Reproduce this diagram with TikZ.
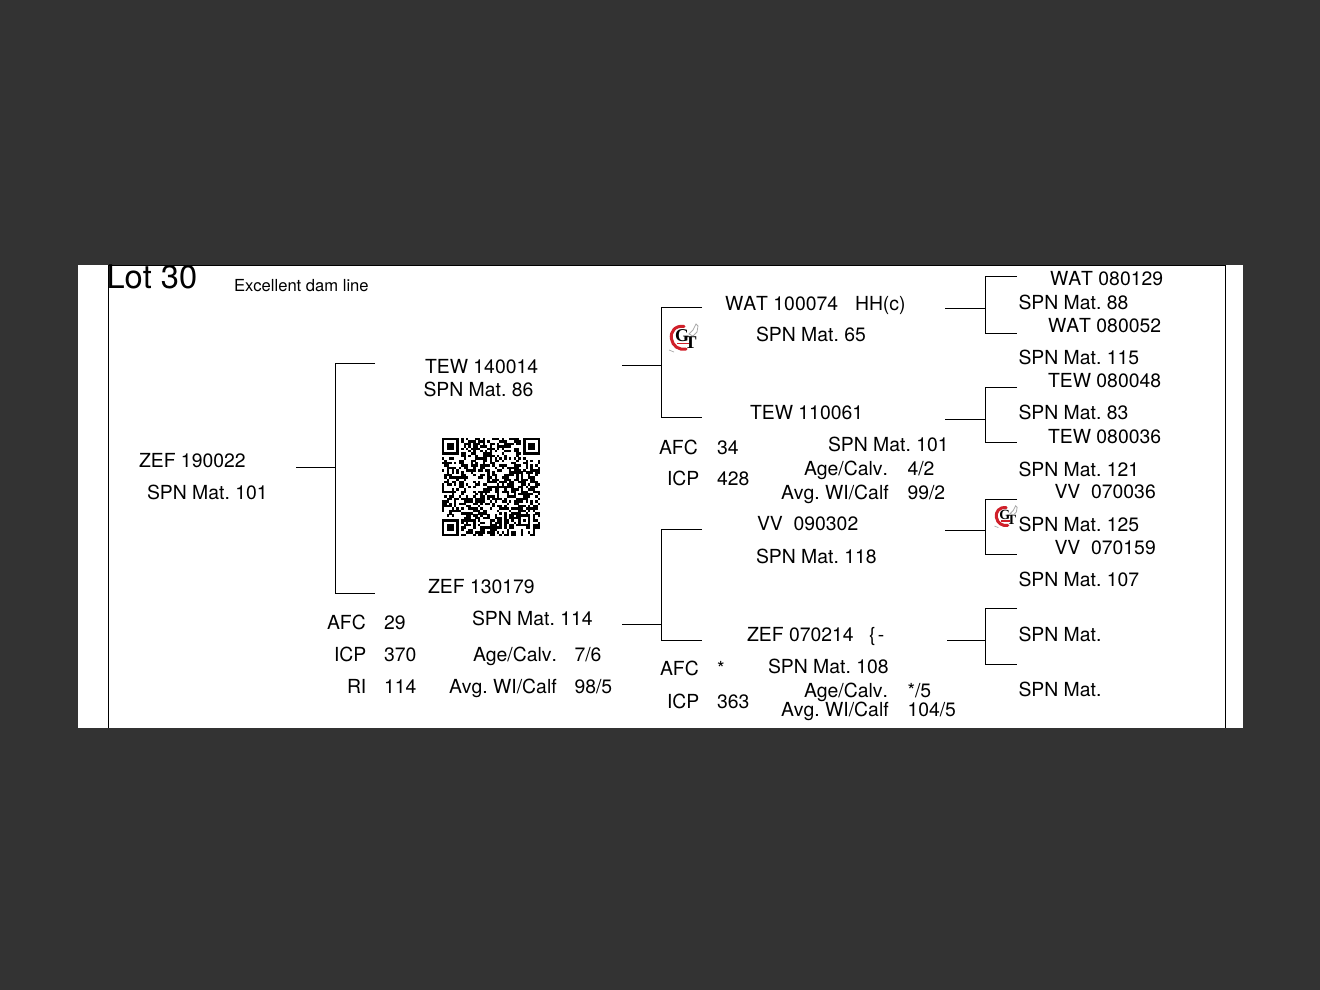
\documentclass[tikz,border=0pt]{standalone}
\usepackage{fontspec}
\setmainfont[Kerning=Off]{TeX Gyre Heros}
\newfontfamily\logoserif{Liberation Serif}
\definecolor{pagebg}{HTML}{333333}
\definecolor{logored}{HTML}{D0202A}
\definecolor{logogray}{HTML}{A9A9A9}
\frenchspacing
\tikzset{
  lbl/.style={inner sep=0pt,outer sep=0pt,anchor=base west,text=black,font=\fontsize{19.38}{23}\selectfont},
  link/.style={draw=black,line width=0.9pt,line join=miter},
  framerule/.style={draw=black,line width=1pt},
  gtlogo/.pic={
    \draw[logored,line width=3pt,line cap=round] (15,3.5) .. controls (6,2) and (1,9) .. (2.5,16) .. controls (3.5,23) and (10,27.5) .. (17,26);
    \draw[logored,line width=1.4pt] (8,20.5) -- (20,20.5);
    \node[inner sep=0pt,anchor=base west,transform shape,font=\logoserif\bfseries\fontsize{18}{18}\selectfont] (-gt) at (6,18) {G\kern-4.5pt\raisebox{-7pt}{T}};
    \draw[logogray,line width=0.8pt] (20,11) -- (24,7) -- (27,1) -- (29,3) -- (28,9) -- (24,13) -- cycle;
    \draw[logogray,line width=0.7pt] (0,27) -- (5,29);
  },
  qrfinder/.pic={
    \fill[black] (0,0) rectangle (7,7);
    \fill[white] (1,1) rectangle (6,6);
    \fill[black] (2,2) rectangle (5,5);
  }
}
\begin{document}
\begin{tikzpicture}[x=1pt,y=-1pt]
\useasboundingbox (0,0) rectangle (1320,990);
\fill[pagebg] (0,0) rectangle (1320,990);
\fill[white] (78,264.5) rectangle (1243,728);
% frame
\coordinate (fa) at (108.5,728); \coordinate (fb) at (108.5,265); \coordinate (fc) at (1225.5,265); \coordinate (fd) at (1225.5,728);
\draw[framerule] (fa) -- (fb) -- (fc) -- (fd);
% titles
\node[lbl,font=\fontsize{32.6}{36}\selectfont] (lot) at (106.5,288) {Lot 30};
\node[lbl,font=\fontsize{16.6}{20}\selectfont] (note) at (234,291) {Excellent dam line};
% generation 1
\node[lbl] (a1) at (139,467) {ZEF 190022};
\node[lbl] (a2) at (147,499) {SPN Mat. 101};
% generation 2
\node[lbl] (b1) at (425,373) {TEW 140014};
\node[lbl] (b2) at (423.5,396) {SPN Mat. 86};
\node[lbl] (c1) at (428,593) {ZEF 130179};
\node[lbl] (c2) at (327,629) {AFC};
\node[lbl] (c3) at (384,629) {29};
\node[lbl] (c4) at (472,625) {SPN Mat. 114};
\node[lbl] (c5) at (334,661) {ICP};
\node[lbl] (c6) at (384,661) {370};
\node[lbl] (c7) at (473,661) {Age/Calv.};
\node[lbl] (c8) at (574.5,661) {7/6};
\node[lbl] (c9) at (347,693) {RI};
\node[lbl] (c10) at (384,693) {114};
\node[lbl] (c11) at (449,693) {Avg. WI/Calf};
\node[lbl] (c12) at (574.5,693) {98/5};
% generation 3
\node[lbl] (d1) at (725,310) {WAT 100074};
\node[lbl] (d2) at (855,310) {HH(c)};
\node[lbl] (d3) at (756,341) {SPN Mat. 65};
\node[lbl] (e1) at (750,419) {TEW 110061};
\node[lbl] (e2) at (659,454) {AFC};
\node[lbl] (e3) at (717,454) {34};
\node[lbl] (e4) at (828,451) {SPN Mat. 101};
\node[lbl] (e5) at (804,475) {Age/Calv.};
\node[lbl] (e6) at (907.5,475) {4/2};
\node[lbl] (e7) at (667,485) {ICP};
\node[lbl] (e8) at (717,485) {428};
\node[lbl] (e9) at (781,499) {Avg. WI/Calf};
\node[lbl] (e10) at (907.5,499) {99/2};
\node[lbl] (f1) at (757,530) {VV\ \ 090302};
\node[lbl] (f2) at (756,563) {SPN Mat. 118};
\node[lbl] (g1) at (747,641) {ZEF 070214};
\node[lbl] (g2) at (869,641) {\{\kern2.5pt-};
\node[lbl] (g3) at (660,675) {AFC};
\node[lbl] (g4) at (717,675) {*};
\node[lbl] (g5) at (768,673) {SPN Mat. 108};
\node[lbl] (g6) at (804,697) {Age/Calv.};
\node[lbl] (g7) at (907.5,697) {*/5};
\node[lbl] (g8) at (667,708) {ICP};
\node[lbl] (g9) at (717,708) {363};
\node[lbl] (g10) at (781,716) {Avg. WI/Calf};
\node[lbl] (g11) at (907.5,716) {104/5};
% generation 4
\node[lbl] (h1) at (1050,285) {WAT 080129};
\node[lbl] (h2) at (1018.5,309) {SPN Mat. 88};
\node[lbl] (h3) at (1048,332) {WAT 080052};
\node[lbl] (h4) at (1018.5,364) {SPN Mat. 115};
\node[lbl] (h5) at (1048,387) {TEW 080048};
\node[lbl] (h6) at (1018.5,419) {SPN Mat. 83};
\node[lbl] (h7) at (1048,443) {TEW 080036};
\node[lbl] (h8) at (1018.5,476) {SPN Mat. 121};
\node[lbl] (h9) at (1054.5,498) {VV\ \ 070036};
\node[lbl] (h10) at (1018.5,531) {SPN Mat. 125};
\node[lbl] (h11) at (1054.5,554) {VV\ \ 070159};
\node[lbl] (h12) at (1018.5,586) {SPN Mat. 107};
\node[lbl] (h13) at (1018.5,641) {SPN Mat.};
\node[lbl] (h14) at (1018.5,696) {SPN Mat.};
% brackets
\foreach \nm/\sx/\sy/\mx/\ex/\ta/\tb in {
  p/296/467.5/335.5/375/363.5/593.5,
  q/622/365.5/661.5/702/307.5/417.5,
  r/622/624.5/661.5/702/529.5/640.5,
  s/945/308.5/985.5/1017/276.5/333.5,
  u/945/419.5/985.5/1017/387.5/442.5,
  v/945/530.5/985.5/1017/499.5/554.5,
  w/947/640.5/985.5/1017/608.5/664.5}{
  \coordinate (\nm s) at (\sx,\sy);
  \coordinate (\nm j) at (\mx,\sy);
  \coordinate (\nm a) at (\ex,\ta);
  \coordinate (\nm b) at (\ex,\tb);
  \coordinate (\nm c) at (\mx,\ta);
  \coordinate (\nm d) at (\mx,\tb);
  \draw[link] (\nm s) -- (\nm j);
  \draw[link] (\nm a) -- (\nm c) -- (\nm d) -- (\nm b);
}
% logos
\pic (logoa) at (669,323) {gtlogo};
\pic[scale=0.78] (logob) at (994.5,505) {gtlogo};
% QR code
\begin{scope}[shift={(442,438)},x=2.39pt,y=-2.39pt]
\pgfmathsetseed{30}
\foreach \r in {0,...,40}{
  \foreach \c in {0,...,40}{
    \pgfmathrandominteger{\qb}{0}{1}
    \ifnum\qb=1
      \fill[black] (\c,\r) rectangle +(1.02,1.02);
    \fi
  }
}
\fill[white] (0,0) rectangle (8,8);
\fill[white] (33,0) rectangle (41.1,8);
\fill[white] (0,33) rectangle (8,41.1);
\foreach \fx/\fy in {0/0,34/0,0/34}{
  \pic at (\fx,\fy) {qrfinder};
}
\fill[black] (32,32) rectangle (37,37);
\fill[white] (33,33) rectangle (36,36);
\fill[black] (34,34) rectangle (35,35);
\end{scope}
\end{tikzpicture}
\end{document}
